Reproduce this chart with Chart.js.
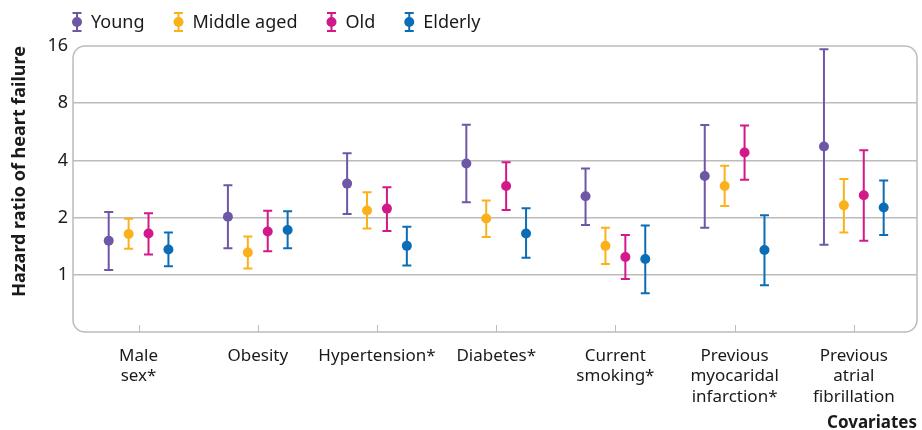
<!DOCTYPE html>
<html>
<head>
<meta charset="utf-8">
<script src="https://cdn.jsdelivr.net/npm/chart.js@4.4.1/dist/chart.umd.min.js"></script>
<style>
  body { margin: 0; background: #fff; }
</style>
</head>
<body>
<canvas id="grafica" width="922" height="430"></canvas>
<script>
// Categorías (covariables) y etiquetas del eje y
const categorias = [
  ['Male', 'sex*'],
  ['Obesity'],
  ['Hypertension*'],
  ['Diabetes*'],
  ['Current', 'smoking*'],
  ['Previous', 'myocaridal', 'infarction*'],
  ['Previous', 'atrial', 'fibrillation']
];
const ticksY = [1, 2, 4, 8, 16];

// Hazard ratio y su intervalo por grupo de edad
const youngHR   = [1.51, 2.02, 3.02, 3.85, 2.59, 3.31, 4.73];
const youngLow  = [1.06, 1.38, 2.09, 2.41, 1.83, 1.77, 1.44];
const youngHigh = [2.14, 2.96, 4.36, 6.17, 3.63, 6.15, 15.4];

const middleHR   = [1.64, 1.31, 2.18, 1.98, 1.42, 2.93, 2.32];
const middleLow  = [1.37, 1.08, 1.75, 1.58, 1.14, 2.30, 1.67];
const middleHigh = [1.97, 1.59, 2.72, 2.46, 1.77, 3.75, 3.19];

const oldHR   = [1.65, 1.69, 2.23, 2.93, 1.24, 4.40, 2.62];
const oldLow  = [1.28, 1.33, 1.70, 2.19, 0.95, 3.16, 1.51];
const oldHigh = [2.11, 2.17, 2.89, 3.91, 1.62, 6.10, 4.52];

const elderlyHR   = [1.36, 1.72, 1.42, 1.65, 1.21, 1.35, 2.26];
const elderlyLow  = [1.11, 1.38, 1.12, 1.23, 0.80, 0.88, 1.62];
const elderlyHigh = [1.67, 2.16, 1.79, 2.24, 1.82, 2.06, 3.14];

const series = [
  { nombre: 'Young',       color: '#6e57a7', hr: youngHR,   low: youngLow,   high: youngHigh },
  { nombre: 'Middle aged', color: '#fbb11a', hr: middleHR,  low: middleLow,  high: middleHigh },
  { nombre: 'Old',         color: '#d3198a', hr: oldHR,     low: oldLow,     high: oldHigh },
  { nombre: 'Elderly',     color: '#0c6db7', hr: elderlyHR, low: elderlyLow, high: elderlyHigh }
];

const separacion = 0.167; // desplazamiento entre grupos dentro de cada categoría
const gris = '#bcbcbc';

Chart.defaults.font.family = '"Noto Sans", sans-serif';
Chart.defaults.color = '#1a1a1a';

// Dibuja el símbolo de barra de error
function dibujarBarra(ctx, x, yTop, yBot, color, capW) {
  ctx.save();
  ctx.strokeStyle = color;
  ctx.lineWidth = 2;
  ctx.beginPath();
  ctx.moveTo(x, yTop); ctx.lineTo(x, yBot);
  ctx.moveTo(x - capW, yTop); ctx.lineTo(x + capW, yTop);
  ctx.moveTo(x - capW, yBot); ctx.lineTo(x + capW, yBot);
  ctx.stroke();
  ctx.restore();
}

const pluginBarras = {
  id: 'barrasError',
  beforeDatasetsDraw(chart) {
    const ctx = chart.ctx;
    const y = chart.scales.y;
    chart.data.datasets.forEach((ds, d) => {
      const meta = chart.getDatasetMeta(d);
      meta.data.forEach((el, i) => {
        const p = ds.data[i];
        dibujarBarra(ctx, el.x, y.getPixelForValue(p.hi), y.getPixelForValue(p.lo), ds.borderColor, 4.5);
      });
    });
  }
};

const pluginMarco = {
  id: 'marco',
  beforeDatasetsDraw(chart) {
    const { ctx, chartArea: a, scales } = chart;
    ctx.save();
    ctx.strokeStyle = gris;
    ctx.lineWidth = 1.5;
    ctx.beginPath();
    ctx.roundRect(a.left, a.top, a.right - a.left, a.bottom - a.top, 12);
    ctx.stroke();
    // marcas del eje x
    ctx.lineWidth = 1;
    categorias.forEach((c, i) => {
      const x = Math.round(scales.x.getPixelForValue(i)) + 0.5;
      ctx.beginPath();
      ctx.moveTo(x, a.bottom - 7);
      ctx.lineTo(x, a.bottom);
      ctx.stroke();
    });
    ctx.restore();
  }
};

const pluginLeyenda = {
  id: 'leyenda',
  afterDraw(chart) {
    const ctx = chart.ctx;
    ctx.save();
    ctx.font = '18px "Noto Sans", sans-serif';
    ctx.textBaseline = 'middle';
    ctx.fillStyle = '#1a1a1a';
    let x = 77;
    const yc = 22;
    series.forEach(s => {
      dibujarBarra(ctx, x, 13, 31, s.color, 4.5);
      ctx.beginPath();
      ctx.fillStyle = s.color;
      ctx.arc(x, yc, 5, 0, Math.PI * 2);
      ctx.fill();
      ctx.fillStyle = '#1a1a1a';
      ctx.fillText(s.nombre, x + 14, yc + 1);
      x += 14 + ctx.measureText(s.nombre).width + 34;
    });
    ctx.restore();
  }
};

new Chart(document.getElementById('grafica'), {
  type: 'scatter',
  data: {
    datasets: series.map((s, j) => ({
      label: s.nombre,
      data: s.hr.map((v, i) => ({ x: i + (j - 1.5) * separacion, y: v, lo: s.low[i], hi: s.high[i] })),
      backgroundColor: s.color,
      borderColor: s.color,
      pointRadius: 5,
      pointHoverRadius: 5,
      borderWidth: 0
    }))
  },
  options: {
    responsive: false,
    animation: false,
    layout: { padding: { top: 46, right: 2, bottom: 0, left: 0 } },
    plugins: {
      legend: { display: false },
      tooltip: { enabled: false }
    },
    scales: {
      x: {
        type: 'linear',
        min: -0.55,
        max: 6.53,
        afterBuildTicks: (scale) => { scale.ticks = categorias.map((c, i) => ({ value: i })); },
        afterFit: (scale) => { scale.height = 98; },
        grid: { display: false },
        border: { display: false },
        ticks: {
          autoSkip: false,
          maxRotation: 0,
          padding: 6,
          font: { size: 17, lineHeight: 1.2 },
          color: '#1a1a1a',
          callback: (v) => categorias[v]
        },
        title: {
          display: true,
          text: 'Covariates',
          align: 'end',
          font: { size: 17, weight: 'bold' },
          padding: { top: 0, bottom: -3 }
        }
      },
      y: {
        type: 'logarithmic',
        min: 0.5,
        max: 16,
        afterBuildTicks: (scale) => { scale.ticks = ticksY.map(v => ({ value: v })); },
        afterFit: (scale) => { scale.width = 73; },
        grid: {
          color: (c) => (c.tick && c.tick.value === 16 ? 'rgba(0,0,0,0)' : gris),
          lineWidth: 1.5,
          drawTicks: false
        },
        border: { display: false },
        ticks: {
          padding: 5,
          font: { size: 18 },
          color: '#1a1a1a',
          callback: (v) => String(v)
        },
        title: {
          display: true,
          text: 'Hazard ratio of heart failure',
          align: 'end',
          font: { size: 18, weight: 'bold' },
          padding: { top: 9, bottom: 0 }
        }
      }
    }
  },
  plugins: [pluginMarco, pluginBarras, pluginLeyenda]
});
</script>
</body>
</html>
